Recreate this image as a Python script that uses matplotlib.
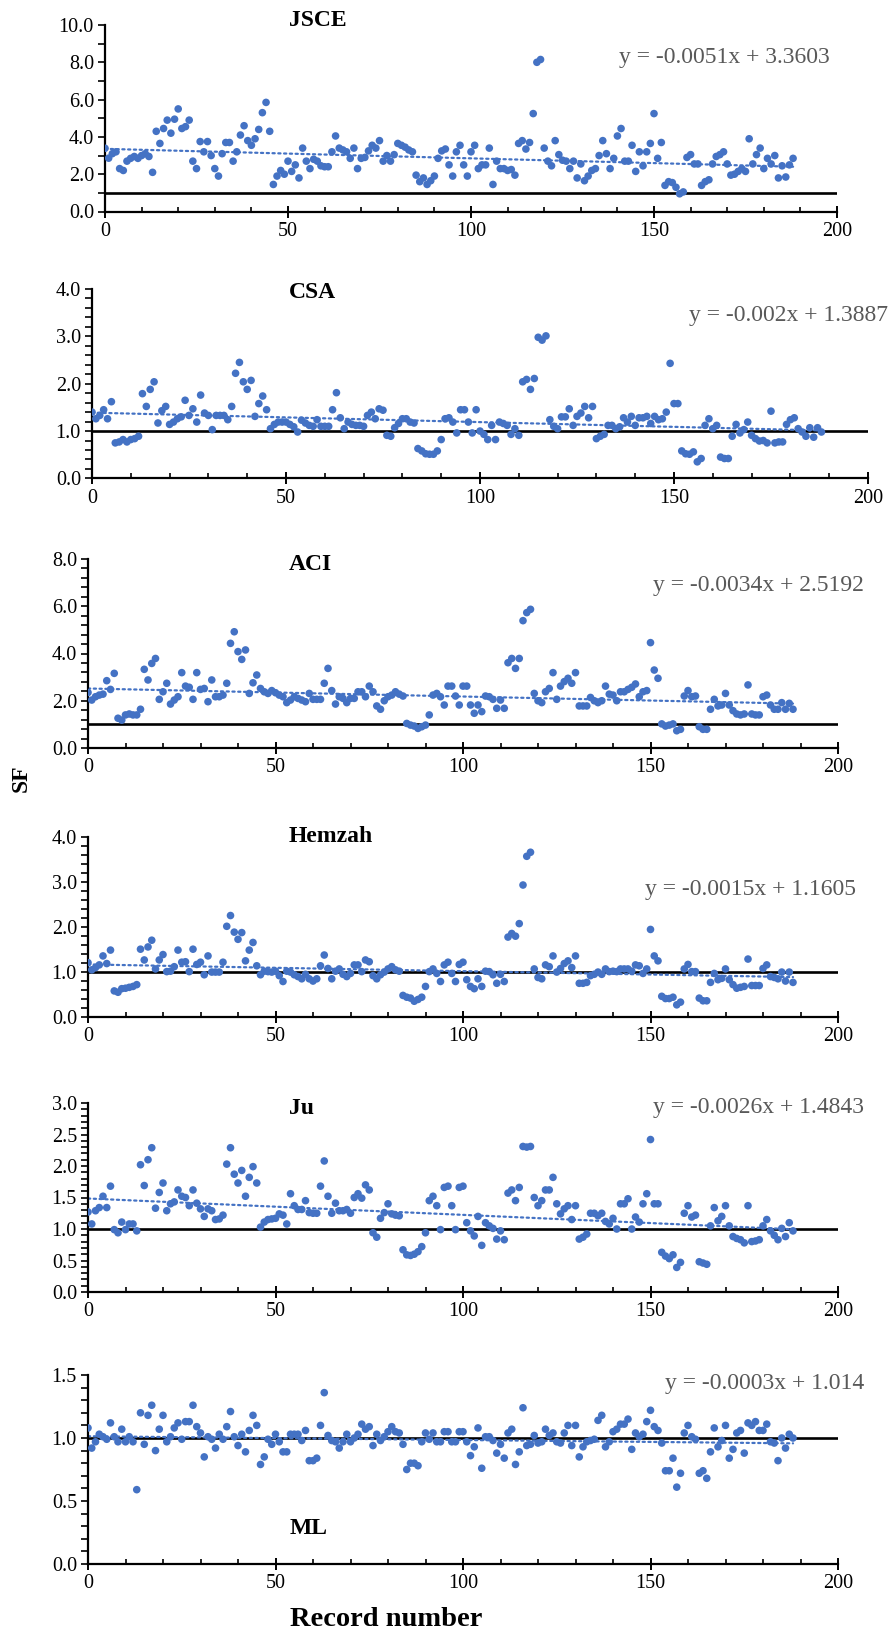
import numpy as np
import matplotlib.pyplot as plt
from matplotlib.ticker import MultipleLocator, FormatStrFormatter

plt.rcParams['font.family'] = ['Liberation Serif', 'DejaVu Serif']

W, H = 891, 1637

# SF values, record numbers 0..188
jsce = [3.39, 2.86, 3.1, 3.2, 2.3, 2.2, 2.7, 2.85, 2.95, 2.85,
        3.0, 3.1, 2.95, 2.1, 4.3, 3.65, 4.45, 4.9, 4.2, 4.95,
        5.5, 4.45, 4.55, 4.9, 2.7, 2.3, 3.75, 3.2, 3.75, 3.0,
        2.3, 1.9, 3.1, 3.7, 3.7, 2.7, 3.2, 4.1, 4.6, 3.8,
        3.55, 3.9, 4.4, 5.3, 5.85, 4.3, 1.45, 1.9, 2.2, 2.0,
        2.7, 2.15, 2.5, 1.8, 3.4, 2.7, 2.3, 2.8, 2.7, 2.45,
        2.4, 2.4, 3.2, 4.05, 3.4, 3.3, 3.2, 2.85, 3.4, 2.3,
        2.85, 2.9, 3.25, 3.55, 3.4, 3.8, 2.7, 3.0, 2.7, 3.05,
        3.65, 3.55, 3.45, 3.3, 3.2, 1.95, 1.6, 1.8, 1.45, 1.65,
        1.9, 2.85, 3.25, 3.35, 2.5, 1.9, 3.2, 3.55, 2.5,
        1.9, 3.2, 3.55, 2.3, 2.5, 2.5, 3.4, 1.45, 2.7, 2.3,
        2.3, 2.2, 2.25, 1.95, 3.65, 3.8, 3.35, 3.7, 5.25, 8.0,
        8.15, 3.4, 2.7, 2.45, 3.8, 3.05, 2.75, 2.7, 2.3, 2.7,
        1.8, 2.55, 1.65, 1.9, 2.2, 2.3, 3.0, 3.8, 3.1, 2.3,
        2.85, 4.05, 4.45, 2.7, 2.7, 3.55, 2.15, 3.2, 2.45, 3.2,
        3.65, 5.25, 2.85, 3.7, 1.4, 1.6, 1.55, 1.3, 0.95, 1.05,
        2.9, 3.05, 2.55, 2.55, 1.4, 1.6, 1.7, 2.55, 2.95, 3.05,
        3.2, 2.55, 1.95, 2.0, 2.15, 2.3, 2.15, 3.9, 2.55, 3.05,
        3.4, 2.3, 2.85, 2.55, 3.0, 1.8, 2.45, 1.85, 2.5, 2.85]

csa = [1.40, 1.26, 1.33, 1.45, 1.26, 1.62, 0.75, 0.77, 0.82, 0.77,
       0.82, 0.84, 0.89, 1.79, 1.52, 1.88, 2.04, 1.17, 1.43, 1.52,
       1.14, 1.19, 1.26, 1.30, 1.65, 1.33, 1.47, 1.19, 1.76, 1.38,
       1.33, 1.03, 1.33, 1.33, 1.33, 1.24, 1.52, 2.22, 2.45, 2.04,
       1.88, 2.07, 1.31, 1.58, 1.74, 1.45, 1.05, 1.14, 1.19, 1.19,
       1.19, 1.14, 1.09, 0.98, 1.23, 1.17, 1.12, 1.10, 1.24, 1.10,
       1.10, 1.10, 1.45, 1.81, 1.28, 1.05, 1.19, 1.14, 1.12, 1.12,
       1.10, 1.33, 1.40, 1.26, 1.47, 1.44, 0.91, 0.89, 1.07, 1.16,
       1.26, 1.26, 1.19, 1.17, 0.63, 0.58, 0.52, 0.51, 0.51, 0.58,
       0.82, 1.26, 1.28, 1.19, 0.96, 1.45, 1.45, 1.19, 0.96,
       1.45, 1.00, 0.93, 0.82, 1.12, 0.82, 1.19, 1.16, 1.12, 0.93,
       1.05, 0.91, 2.04, 2.09, 1.88, 2.11, 2.98, 2.92, 3.01, 1.24,
       1.10, 1.05, 1.30, 1.30, 1.47, 1.12, 1.31, 1.38, 1.52, 1.28,
       1.52, 0.84, 0.89, 0.93, 1.12, 1.12, 1.05, 1.09, 1.28, 1.19,
       1.31, 1.12, 1.28, 1.28, 1.31, 1.16, 1.31, 1.24, 1.26, 1.40,
       2.43, 1.58, 1.58, 0.58, 0.52, 0.51, 0.56, 0.35, 0.42, 1.12,
       1.26, 1.05, 1.12, 0.45, 0.42, 0.42, 0.89, 1.14, 0.96, 1.03,
       1.19, 0.91, 0.84, 0.79, 0.80, 0.75, 1.42, 0.75, 0.77, 0.77,
       1.14, 1.24, 1.28, 1.05, 0.98, 0.89, 1.07, 0.87, 1.07, 0.98]

aci = [2.35, 2.03, 2.17, 2.24, 2.28, 2.85, 2.48, 3.16, 1.26, 1.18,
       1.40, 1.44, 1.40, 1.40, 1.64, 3.33, 2.88, 3.58, 3.79, 2.06,
       2.38, 2.74, 1.86, 2.03, 2.17, 3.19, 2.62, 2.57, 2.06, 3.19,
       2.48, 2.52, 1.96, 2.88, 2.17, 2.17, 2.24, 2.74, 4.43, 4.92,
       4.08, 3.75, 4.15, 2.31, 2.76, 3.09, 2.52, 2.38, 2.31, 2.43,
       2.34, 2.24, 2.17, 1.92, 2.03, 2.17, 2.10, 2.03, 1.96, 2.31,
       2.06, 2.06, 2.06, 2.74, 3.37, 2.43, 1.86, 2.17, 2.10, 1.92,
       2.10, 2.10, 2.38, 2.38, 2.17, 2.62, 2.38, 1.78, 1.64, 2.00,
       2.17, 2.24, 2.38, 2.28, 2.20, 1.04, 0.97, 0.93, 0.83, 0.90,
       0.97, 1.40, 2.24, 2.31, 2.17, 1.82, 2.62, 2.62, 2.20, 1.82,
       2.62, 2.62, 1.82, 1.47,
       1.82, 1.54, 2.20, 2.17, 2.06, 1.68, 2.03, 1.68, 3.61, 3.79,
       3.37, 3.79, 5.39, 5.73, 5.87, 2.31, 2.00, 1.92, 2.38, 2.52,
       3.19, 2.06, 2.62, 2.81, 2.95, 2.74, 3.19, 1.78, 1.78, 1.78,
       2.14, 2.00, 1.92, 2.00, 2.62, 2.28, 2.24, 2.00, 2.38, 2.38,
       2.48, 2.57, 2.71, 2.17, 2.38, 2.43, 4.46, 3.30, 2.95, 1.02,
       0.93, 0.97, 1.02, 0.73, 0.79, 2.20, 2.43, 2.17, 2.20, 0.90,
       0.79, 0.79, 1.64, 2.06, 1.78, 1.82, 2.31, 1.82, 1.58, 1.44,
       1.40, 1.44, 2.67, 1.44, 1.40, 1.40, 2.17, 2.24, 1.82, 1.64,
       1.64, 1.92, 1.64, 1.89, 1.64]

hemzah = [1.20, 1.04, 1.09, 1.15, 1.35, 1.18, 1.48, 0.57, 0.54, 0.62,
          0.63, 0.65, 0.67, 0.71, 1.50, 1.26, 1.55, 1.70, 1.06, 1.26,
          1.38, 1.00, 1.01, 1.11, 1.48, 1.21, 1.22, 1.00, 1.50, 1.16,
          1.21, 0.93, 1.35, 0.99, 0.99, 0.99, 1.21, 2.01, 2.25, 1.88,
          1.72, 1.87, 1.24, 1.48, 1.65, 1.13, 0.93, 1.01, 1.00, 0.99,
          1.01, 0.91, 0.78, 1.01, 0.99, 0.93, 0.89, 0.84, 0.94, 0.84,
          0.79, 0.84, 1.13, 1.37, 1.07, 0.84, 1.01, 1.06, 0.94, 0.89,
          0.96, 1.15, 1.15, 1.00, 1.26, 1.22, 0.91, 0.84, 0.93, 0.99,
          1.06, 1.11, 1.04, 1.01, 0.47, 0.43, 0.41, 0.34, 0.38, 0.43,
          0.67, 1.00, 1.06, 0.96, 0.78, 1.15, 1.21, 0.96, 0.78, 1.16,
          1.21, 0.82, 0.67,
          0.62, 0.84, 0.67, 1.01, 1.00, 0.93, 0.74, 0.94, 0.78, 1.77,
          1.85, 1.79, 2.07, 2.93, 3.57, 3.66, 1.06, 0.87, 0.84, 1.15,
          1.11, 1.35, 0.99, 1.07, 1.18, 1.24, 1.09, 1.35, 0.74, 0.74,
          0.76, 0.91, 0.94, 0.99, 0.94, 1.06, 1.00, 1.01, 1.00, 1.06,
          1.06, 1.06, 1.01, 1.15, 1.13, 0.96, 1.06, 1.94, 1.35, 1.24,
          0.45, 0.40, 0.40, 0.43, 0.26, 0.32, 1.06, 1.16, 1.00, 1.00,
          0.41, 0.35, 0.35, 0.76, 0.96, 0.82, 0.85, 1.06, 0.82, 0.71,
          0.63, 0.65, 0.67, 1.28, 0.69, 0.69, 0.69, 1.07, 1.15, 0.89,
          0.87, 0.84, 0.99, 0.79, 0.99, 0.76]

ju = [1.27, 1.08, 1.29, 1.34, 1.52, 1.34, 1.68, 0.99, 0.94, 1.11,
      0.99, 1.08, 1.08, 0.97, 2.02, 1.69, 2.10, 2.29, 1.33, 1.58,
      1.73, 1.29, 1.40, 1.43, 1.62, 1.52, 1.50, 1.37, 1.62, 1.41,
      1.32, 1.20, 1.32, 1.29, 1.15, 1.16, 1.22, 2.03, 2.29, 1.87,
      1.73, 1.93, 1.52, 1.82, 1.99, 1.73, 1.03, 1.11, 1.15, 1.16,
      1.17, 1.24, 1.22, 1.08, 1.56, 1.37, 1.31, 1.31, 1.45, 1.26,
      1.25, 1.25, 1.68, 2.08, 1.52, 1.25, 1.41, 1.29, 1.29, 1.31,
      1.25, 1.50, 1.56, 1.49, 1.70, 1.62, 0.94, 0.87, 1.17, 1.26,
      1.40, 1.24, 1.22, 1.21, 0.67, 0.59, 0.58, 0.60, 0.64, 0.72,
      0.94, 1.45, 1.52, 1.37, 0.99, 1.66, 1.68, 1.37, 0.99, 1.66,
      1.68, 1.10, 0.97,
      0.89, 1.20, 0.74, 1.10, 1.05, 1.01, 0.84, 0.97, 0.83, 1.57,
      1.62, 1.45, 1.66, 2.31, 2.30, 2.31, 1.50, 1.37, 1.45, 1.62,
      1.62, 1.82, 1.40, 1.24, 1.32, 1.37, 1.15, 1.37, 0.84, 0.87,
      0.92, 1.25, 1.25, 1.21, 1.25, 1.12, 1.08, 1.17, 1.00, 1.40,
      1.40, 1.48, 1.00, 1.19, 1.11, 1.40, 1.56, 2.42, 1.40, 1.40,
      0.63, 0.57, 0.53, 0.59, 0.39, 0.47, 1.25, 1.37, 1.19, 1.22,
      0.48, 0.46, 0.44, 1.05, 1.34, 1.13, 1.20, 1.37, 1.05, 0.88,
      0.85, 0.83, 0.78, 1.37, 0.80, 0.81, 0.83, 1.05, 1.15, 0.97,
      0.90, 0.83, 1.01, 0.88, 1.10, 0.97]

ml = [1.08, 0.92, 0.97, 1.03, 1.01, 0.99, 1.12, 1.01, 0.97, 1.07,
      0.97, 1.01, 0.97, 0.59, 1.20, 0.95, 1.18, 1.26, 0.90, 1.07,
      1.18, 0.97, 1.01, 1.08, 1.12, 0.99, 1.13, 1.13, 1.26, 1.09,
      1.04, 0.85, 1.01, 0.99, 0.92, 1.03, 0.99, 1.09, 1.21, 1.01,
      0.94, 1.03, 0.89, 1.06, 1.18, 1.10, 0.79, 0.85, 0.99, 0.95,
      1.03, 0.97, 0.89, 0.89, 1.03, 1.03, 1.03, 0.98, 1.06, 0.82,
      0.82, 0.84, 1.10, 1.36, 1.02, 0.98, 0.97, 0.92, 0.97, 1.03,
      0.97, 1.00, 1.03, 1.11, 1.07, 1.09, 0.94, 1.03, 0.98, 1.01,
      1.05, 1.09, 1.05, 1.04, 0.95, 0.75, 0.80, 0.80, 0.78, 0.97,
      1.04, 0.99, 1.04, 0.97, 0.97, 1.05, 1.05, 0.97, 0.97, 1.05,
      1.05, 0.97, 0.86, 0.93,
      1.08, 0.76, 1.01, 1.01, 0.98, 0.88, 0.95, 0.84, 1.04, 1.07,
      0.79, 0.89, 1.24, 0.94, 0.95, 1.02, 0.96, 0.97, 1.07, 1.02,
      1.04, 0.97, 0.96, 1.04, 1.10, 0.94, 1.10, 0.85, 0.93, 0.97,
      0.98, 0.99, 1.14, 1.18, 0.93, 0.97, 1.05, 1.07, 1.11, 1.11,
      1.15, 0.91, 1.04, 1.01, 1.03, 1.13, 1.22, 1.09, 1.06, 0.96,
      0.74, 0.74, 0.84, 0.61, 0.72, 1.04, 1.10, 1.01, 0.99, 0.72,
      0.74, 0.68, 0.89, 1.08, 0.93, 0.98, 1.10, 0.84, 0.91, 1.04,
      1.06, 0.88, 1.12, 1.10, 1.13, 1.06, 1.06, 1.11, 0.97, 0.96,
      0.82, 1.00, 0.92, 1.03, 1.00]

names = ["JSCE", "CSA", "ACI", "Hemzah", "Ju", "ML"]
series = [jsce, csa, aci, hemzah, ju, ml]
slopes = [-0.0051, -0.002, -0.0034, -0.0015, -0.0026, -0.0003]
intercepts = [3.3603, 1.3887, 2.5192, 1.1605, 1.4843, 1.014]
equations = ["y = -0.0051x + 3.3603", "y = -0.002x + 1.3887",
             "y = -0.0034x + 2.5192", "y = -0.0015x + 1.1605",
             "y = -0.0026x + 1.4843", "y = -0.0003x + 1.014"]
y_tops = [10.0, 4.0, 8.0, 4.0, 3.0, 1.5]
y_steps = [2.0, 1.0, 2.0, 1.0, 0.5, 0.5]
y_minor = [1.0, 0.2, 0.4, 0.2, 0.1, 0.1]

# axes box in pixels: x of 0, x of 200, y of top, y of 0
boxes = [(105, 837, 25, 211.5), (92, 868, 289, 478.4), (88, 838, 559, 748),
         (88, 838, 837, 1016.5), (88, 838, 1103, 1292), (88, 838, 1375, 1564)]
name_pos = [(289, 20), (289, 293), (289, 565), (289, 837), (289, 1108), (290, 1528)]
eq_pos = [(619, 57), (689, 315), (653, 585), (645, 890), (653, 1108), (665, 1383)]

blue = '#4472C4'

fig = plt.figure(figsize=(W / 100, H / 100), dpi=100)

for i in range(6):
    x0, x1, yt, yb = boxes[i]
    ax = fig.add_axes([x0 / W, 1 - yb / H, (x1 - x0) / W, (yb - yt) / H])
    vals = np.array(series[i])
    rec = np.arange(len(vals))

    ax.axhline(1.0, color='black', lw=1.9, zorder=1)
    ax.scatter(rec, vals, s=30, color=blue, edgecolors='none', zorder=3)
    xt = np.array([0, rec[-1]])
    ax.plot(xt, slopes[i] * xt + intercepts[i], color=blue, lw=1.6,
            linestyle=(0, (1, 1.6)), dash_capstyle='round', zorder=2)

    ax.set_xlim(0, 200)
    ax.set_ylim(0, y_tops[i])
    ax.xaxis.set_major_locator(MultipleLocator(50))
    ax.xaxis.set_minor_locator(MultipleLocator(10))
    ax.yaxis.set_major_locator(MultipleLocator(y_steps[i]))
    ax.yaxis.set_minor_locator(MultipleLocator(y_minor[i]))
    ax.yaxis.set_major_formatter(FormatStrFormatter('%.1f'))

    for s in ['top', 'right']:
        ax.spines[s].set_visible(False)
    for s in ['left', 'bottom']:
        ax.spines[s].set_linewidth(1.6)
    ax.tick_params(axis='x', which='major', direction='inout', length=9,
                   width=1.4, labelsize=14.5, pad=3)
    ax.tick_params(axis='x', which='minor', direction='in', length=3.5, width=1.2)
    ax.tick_params(axis='y', which='both', direction='out', length=5, width=1.2)
    ax.tick_params(axis='y', which='major', labelsize=14.5, pad=3)
    ax.patch.set_alpha(0)

    fig.text(name_pos[i][0] / W, 1 - name_pos[i][1] / H, names[i],
             fontsize=17, fontweight='bold', ha='left', va='center')
    fig.text(eq_pos[i][0] / W, 1 - eq_pos[i][1] / H, equations[i],
             fontsize=17, color='#595959', ha='left', va='center')

fig.text(21 / W, 1 - 778 / H, "SF", fontsize=17, fontweight='bold',
         rotation=90, ha='center', va='center')
fig.text(386 / W, 1 - 1620 / H, "Record number", fontsize=20.5,
         fontweight='bold', ha='center', va='center')

fig.savefig('out.png', dpi=100)
